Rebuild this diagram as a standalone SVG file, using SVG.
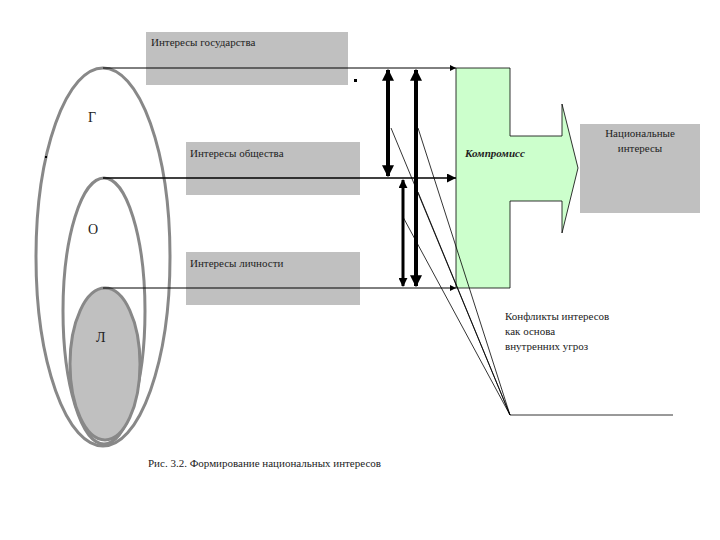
<svg xmlns="http://www.w3.org/2000/svg" width="720" height="540" viewBox="0 0 720 540">
<defs>
<marker id="ah" viewBox="0 0 10 10" refX="10" refY="5" markerWidth="6" markerHeight="6" orient="auto-start-reverse"><path d="M0,0L10,5L0,10z" fill="#000"/></marker>
<marker id="tk" viewBox="0 0 10 10" refX="9" refY="5" markerWidth="3" markerHeight="3" orient="auto-start-reverse"><path d="M0,0L10,5L0,10z" fill="#000"/></marker>
</defs>
<style>
.box{fill:#c0c0c0}
.el{fill:none;stroke:#888;stroke-width:3}
.th{stroke:#000;stroke-width:1}
.dbl{stroke:#000;stroke-width:4;marker-start:url(#tk);marker-end:url(#tk)}
</style>
<rect width="720" height="540" fill="#fff"/>
<g font-family="'Liberation Serif', 'DejaVu Serif', serif" font-size="11" fill="#222">
<g id="ellipses">
<ellipse class="el" cx="103" cy="257" rx="67" ry="189"/>
<ellipse class="el" cx="104" cy="311" rx="41" ry="133"/>
<ellipse class="el" cx="105" cy="364" rx="35" ry="76" style="fill:#c0c0c0"/>
<text x="88" y="122" font-size="14">Г</text>
<text x="88" y="234" font-size="14">О</text>
<text x="96" y="342" font-size="14">Л</text>
<rect x="45" y="156" width="2" height="2" fill="#000"/>
</g>
<g id="state"><rect class="box" x="146" y="32" width="202" height="53"/><text x="151" y="46">Интересы государства</text></g>
<g id="society"><rect class="box" x="186" y="142" width="174" height="53"/><text x="190" y="157">Интересы общества</text></g>
<g id="person"><rect class="box" x="186" y="252" width="174" height="53"/><text x="190" y="267">Интересы личности</text></g>
<rect x="354" y="79" width="3" height="3" fill="#000"/>
<g id="compromise">
<path d="M456,68H510V136H562V104L578,168L562,233V201H510V288H456Z" fill="#ccffcc" stroke="#000" stroke-width="0.8"/>
<text x="465" y="157" font-style="italic" font-weight="bold">Компромисс</text>
</g>
<g id="national"><rect class="box" x="580" y="124" width="120" height="89"/><text x="640" y="137" text-anchor="middle">Национальные</text><text x="640" y="152" text-anchor="middle">интересы</text></g>
<g id="connectors">
<line class="th" x1="103" y1="68" x2="456" y2="68" marker-end="url(#ah)"/>
<line class="th" x1="103" y1="178" x2="456" y2="178" marker-end="url(#ah)" style="stroke-width:1.5"/>
<line class="th" x1="103" y1="288" x2="456" y2="288" marker-end="url(#ah)"/>
<line class="dbl" x1="388" y1="70" x2="388" y2="176"/>
<line class="dbl" x1="416" y1="70" x2="416" y2="286"/>
<line class="dbl" x1="403" y1="180" x2="403" y2="286" style="stroke-width:3"/>
<g stroke="#000" stroke-width="0.8">
<line x1="391" y1="128" x2="510" y2="415"/>
<line x1="418" y1="128" x2="510" y2="415"/>
<line x1="418" y1="192" x2="510" y2="415"/>
<line x1="403" y1="217" x2="510" y2="415"/>
<line x1="510" y1="415" x2="673" y2="415"/>
</g>
</g>
<text x="505" y="320">Конфликты интересов</text>
<text x="505" y="335">как основа</text>
<text x="505" y="350">внутренних угроз</text>
<text x="148" y="467">Рис. 3.2. Формирование национальных интересов</text>
</g>
</svg>
